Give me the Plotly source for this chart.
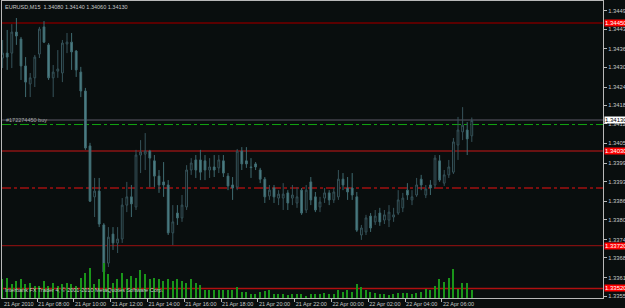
import plotly.graph_objects as go

# ---------------- data (EURUSD M15, 21-22 Apr 2010) ----------------
open_ = [1.34335, 1.34351, 1.34351, 1.34420, 1.34397, 1.34309, 1.34250, 1.34270, 1.34348, 1.34437,
         1.34378, 1.34270, 1.34292, 1.34286, 1.34381, 1.34387, 1.34358, 1.34289, 1.34227, 1.34047,
         1.33880, 1.33899, 1.33788, 1.33663, 1.33758, 1.33729, 1.33742, 1.33853, 1.33880, 1.33847,
         1.34017, 1.34020, 1.34030, 1.33998, 1.33948, 1.33929, 1.33919, 1.33762, 1.33827, 1.33811,
         1.33847, 1.33968, 1.34001, 1.34001, 1.33998, 1.33968, 1.33978, 1.33975, 1.33998, 1.33948,
         1.33919, 1.33912, 1.34030, 1.33998, 1.33978, 1.33988, 1.33968, 1.33938, 1.33883, 1.33909,
         1.33876, 1.33876, 1.33893, 1.33876, 1.33860, 1.33902, 1.33837, 1.33929, 1.33880, 1.33847,
         1.33876, 1.33893, 1.33870, 1.33880, 1.33938, 1.33909, 1.33909, 1.33880, 1.33755, 1.33765,
         1.33817, 1.33798, 1.33827, 1.33804, 1.33804, 1.33814, 1.33827, 1.33844, 1.33902, 1.33870,
         1.33886, 1.33938, 1.33886, 1.33919, 1.33919, 1.33998, 1.33925, 1.33952, 1.33961, 1.34050,
         1.34093, 1.34099, 1.34080]
high = [1.34394, 1.34427, 1.34446, 1.34466, 1.34404, 1.34338, 1.34286, 1.34345, 1.34437, 1.34456,
        1.34384, 1.34312, 1.34361, 1.34394, 1.34417, 1.34417, 1.34361, 1.34306, 1.34237, 1.34057,
        1.33942, 1.33942, 1.33794, 1.33781, 1.33781, 1.33781, 1.33876, 1.33929, 1.33919, 1.34034,
        1.34066, 1.34089, 1.34034, 1.34017, 1.33968, 1.33994, 1.33935, 1.33853, 1.33853, 1.33886,
        1.33984, 1.34007, 1.34017, 1.34034, 1.34017, 1.34007, 1.34017, 1.34017, 1.34017, 1.33958,
        1.33945, 1.34037, 1.34043, 1.34043, 1.34007, 1.33994, 1.33975, 1.33945, 1.33919, 1.33919,
        1.33902, 1.33925, 1.33902, 1.33919, 1.33912, 1.33909, 1.33919, 1.33945, 1.33896, 1.33880,
        1.33909, 1.33902, 1.33909, 1.33968, 1.33958, 1.33945, 1.33958, 1.33896, 1.33788, 1.33821,
        1.33827, 1.33837, 1.33844, 1.33837, 1.33853, 1.33844, 1.33902, 1.33893, 1.33925, 1.33902,
        1.33942, 1.33952, 1.33919, 1.33935, 1.34017, 1.34017, 1.33968, 1.34001, 1.34073, 1.34142,
        1.34174, 1.34125, 1.34140]
low = [1.34302, 1.34296, 1.34302, 1.34378, 1.34263, 1.34207, 1.34207, 1.34240, 1.34335, 1.34384,
       1.34263, 1.34207, 1.34270, 1.34256, 1.34351, 1.34296, 1.34273, 1.34207, 1.34034, 1.33863,
       1.33814, 1.33781, 1.33630, 1.33650, 1.33706, 1.33696, 1.33729, 1.33830, 1.33814, 1.33837,
       1.33958, 1.33968, 1.33912, 1.33912, 1.33893, 1.33880, 1.33755, 1.33722, 1.33788, 1.33798,
       1.33837, 1.33952, 1.33942, 1.33935, 1.33935, 1.33942, 1.33945, 1.33958, 1.33945, 1.33902,
       1.33870, 1.33902, 1.33968, 1.33975, 1.33942, 1.33968, 1.33925, 1.33860, 1.33870, 1.33860,
       1.33853, 1.33837, 1.33837, 1.33853, 1.33844, 1.33821, 1.33827, 1.33853, 1.33830, 1.33830,
       1.33860, 1.33853, 1.33860, 1.33870, 1.33902, 1.33870, 1.33870, 1.33765, 1.33739, 1.33755,
       1.33765, 1.33788, 1.33785, 1.33791, 1.33781, 1.33798, 1.33821, 1.33830, 1.33870, 1.33853,
       1.33880, 1.33902, 1.33876, 1.33886, 1.33909, 1.33929, 1.33916, 1.33942, 1.33955, 1.34001,
       1.34066, 1.34017, 1.34060]
close = [1.34351, 1.34338, 1.34420, 1.34407, 1.34309, 1.34256, 1.34270, 1.34338, 1.34430, 1.34387,
         1.34270, 1.34289, 1.34299, 1.34384, 1.34387, 1.34355, 1.34296, 1.34227, 1.34040, 1.33866,
         1.33899, 1.33791, 1.33634, 1.33748, 1.33729, 1.33742, 1.33853, 1.33880, 1.33857, 1.34017,
         1.34027, 1.34030, 1.34007, 1.33948, 1.33919, 1.33919, 1.33762, 1.33798, 1.33811, 1.33853,
         1.33968, 1.33991, 1.33968, 1.33961, 1.33968, 1.33978, 1.33968, 1.34001, 1.33958, 1.33916,
         1.33909, 1.34030, 1.33988, 1.33988, 1.33976, 1.33978, 1.33938, 1.33880, 1.33902, 1.33880,
         1.33889, 1.33889, 1.33860, 1.33886, 1.33880, 1.33827, 1.33902, 1.33870, 1.33837, 1.33863,
         1.33893, 1.33870, 1.33896, 1.33938, 1.33919, 1.33896, 1.33886, 1.33771, 1.33778, 1.33811,
         1.33778, 1.33817, 1.33798, 1.33821, 1.33830, 1.33821, 1.33870, 1.33876, 1.33886, 1.33880,
         1.33919, 1.33919, 1.33906, 1.33909, 1.34007, 1.33935, 1.33952, 1.33978, 1.34060, 1.34099,
         1.34115, 1.34070, 1.34130]
volume = [190, 200, 140, 170, 190, 140, 150, 120, 120, 170, 120, 150, 120, 140, 150, 140, 120, 200, 250, 300,
          140, 190, 350, 240, 150, 190, 250, 190, 220, 200, 280, 240, 190, 200, 190, 170, 190, 170, 190, 170,
          150, 190, 150, 130, 80, 80, 80, 80, 80, 80, 80, 110, 60, 60, 40, 40, 60, 70, 80, 40,
          40, 40, 30, 40, 40, 40, 20, 40, 40, 40, 50, 40, 40, 80, 60, 80, 60, 140, 110, 80,
          60, 50, 40, 40, 30, 40, 50, 50, 50, 40, 50, 60, 90, 80, 120, 190, 160, 200, 290, 90,
          150, 150, 80]
bars = list(range(len(open_)))

first_label = "21 Apr 2010"
time_label_bars = [8, 16, 24, 32, 40, 48, 56, 64, 72, 80, 88, 96]
time_labels = ["21 Apr 08:00", "21 Apr 10:00", "21 Apr 12:00", "21 Apr 14:00", "21 Apr 16:00",
               "21 Apr 18:00", "21 Apr 20:00", "21 Apr 22:00", "22 Apr 00:00", "22 Apr 02:00",
               "22 Apr 04:00", "22 Apr 06:00"]

price_ticks = [1.34490, 1.34430, 1.34365, 1.34305, 1.34240, 1.34180, 1.34120, 1.34055,
               1.33990, 1.33930, 1.33865, 1.33805, 1.33740, 1.33680, 1.33615, 1.33555]
price_tick_text = [f"{v:.5f}" for v in price_ticks]

level_prices = [1.34450, 1.34030, 1.33720, 1.33580]
level_labels = ["1.34450", "1.34030", "1.33720", "1.33520"]
level_colors = ["#5a0000", "#8a1414", "#9a1010", "#b01010"]
level_widths = [2, 1.5, 1, 1.5]

bid_price = 1.34132
order_price = 1.34117
order_label = "#172274450 buy"
stop_price = 1.33909

title_text = "EURUSD,M15  1.34080 1.34140 1.34060 1.34130"
copyright_text = "Interbank FX Trader 4, \u00a9 2001-2010 MetaQuotes Software Corp."

# ---------------- style ----------------
BG = "#090e0e"
AXIS = "#b8b8b8"
TXT = "#c8c8c8"
FONT = "Liberation Sans"

fig = go.Figure()

fig.add_trace(go.Bar(
    x=bars, y=volume, yaxis="y2", width=0.3,
    marker=dict(color="#1a951a", line=dict(width=0)),
    hoverinfo="skip", showlegend=False,
))

fig.add_trace(go.Candlestick(
    x=bars, open=open_, high=high, low=low, close=close,
    increasing=dict(line=dict(color="#36535a", width=1), fillcolor=BG),
    decreasing=dict(line=dict(color="#3f6a70", width=1), fillcolor="#4f8188"),
    whiskerwidth=0, showlegend=False, hoverinfo="skip",
))

shapes = []
for p, c, w in zip(level_prices, level_colors, level_widths):
    shapes.append(dict(type="line", xref="paper", x0=0, x1=1, yref="y", y0=p, y1=p,
                       line=dict(color=c, width=w), layer="below"))
shapes.append(dict(type="line", xref="paper", x0=0, x1=1, yref="y", y0=stop_price, y1=stop_price,
                   line=dict(color="#a01010", width=1.5, dash="dashdot"), layer="below"))
shapes.append(dict(type="line", xref="paper", x0=0, x1=1, yref="y", y0=bid_price, y1=bid_price,
                   line=dict(color="#40404a", width=1.5), layer="below"))
shapes.append(dict(type="line", xref="paper", x0=0, x1=1, yref="y", y0=order_price, y1=order_price,
                   line=dict(color="#11a511", width=1, dash="dashdot"), layer="below"))

annotations = []
for p, t in zip(level_prices, level_labels):
    annotations.append(dict(x=1, xref="paper", xanchor="left", y=p, yref="y", yanchor="middle",
                            text=t, showarrow=False, bgcolor="#ff0000", borderpad=0, xshift=1,
                            font=dict(family=FONT, size=6, color="#ffffff")))
annotations.append(dict(x=1, xref="paper", xanchor="left", y=bid_price, yref="y", yanchor="middle",
                        text="1.34130", showarrow=False, bgcolor="#ffffff", borderpad=0, xshift=1,
                        font=dict(family=FONT, size=6, color="#000000")))
annotations.append(dict(x=0, xref="paper", xanchor="left", y=bid_price, yref="y", yanchor="middle",
                        text=order_label, showarrow=False, xshift=2, yshift=0,
                        font=dict(family=FONT, size=5.5, color="#a8a8a8")))
annotations.append(dict(x=0, xref="paper", xanchor="left", y=1, yref="paper", yanchor="top",
                        text=title_text, showarrow=False, xshift=1, yshift=-1,
                        font=dict(family=FONT, size=5.5, color=TXT)))
annotations.append(dict(x=0, xref="paper", xanchor="left", y=0, yref="paper", yanchor="bottom",
                        text=copyright_text, showarrow=False, xshift=1, yshift=3,
                        font=dict(family=FONT, size=5.5, color=TXT)))
annotations.append(dict(x=0, xref="paper", xanchor="left", y=0, yref="paper", yanchor="top",
                        text=first_label, showarrow=False, xshift=0, yshift=-1,
                        font=dict(family=FONT, size=5.5, color=TXT)))

fig.update_layout(
    width=625, height=308,
    margin=dict(l=2, r=22, t=1, b=10, autoexpand=False),
    paper_bgcolor=BG, plot_bgcolor=BG,
    showlegend=False,
    bargap=0,
    boxgap=0.45,
    xaxis=dict(
        range=[-0.13, 130.52], showgrid=False, zeroline=False, automargin=False,
        rangeslider=dict(visible=False),
        showline=True, linecolor=AXIS, linewidth=1, mirror=True,
        ticks="outside", ticklen=3, tickcolor=AXIS, tickangle=0,
        tickvals=[b - 0.5 for b in time_label_bars], ticktext=time_labels,
        ticklabelposition="outside right", ticklabelstandoff=0,
        tickfont=dict(family=FONT, size=5.5, color=TXT),
    ),
    yaxis=dict(
        range=[1.335486, 1.345218], side="right", showgrid=False, zeroline=False, automargin=False,
        showline=True, linecolor=AXIS, linewidth=1, mirror=True,
        ticks="outside", ticklen=3, tickcolor=AXIS,
        tickvals=price_ticks, ticktext=price_tick_text,
        tickfont=dict(family=FONT, size=5.8, color=TXT),
    ),
    yaxis2=dict(range=[0, 2970], overlaying="y", visible=False, fixedrange=True),
    shapes=shapes,
    annotations=annotations,
)

fig.write_html("out.html")
